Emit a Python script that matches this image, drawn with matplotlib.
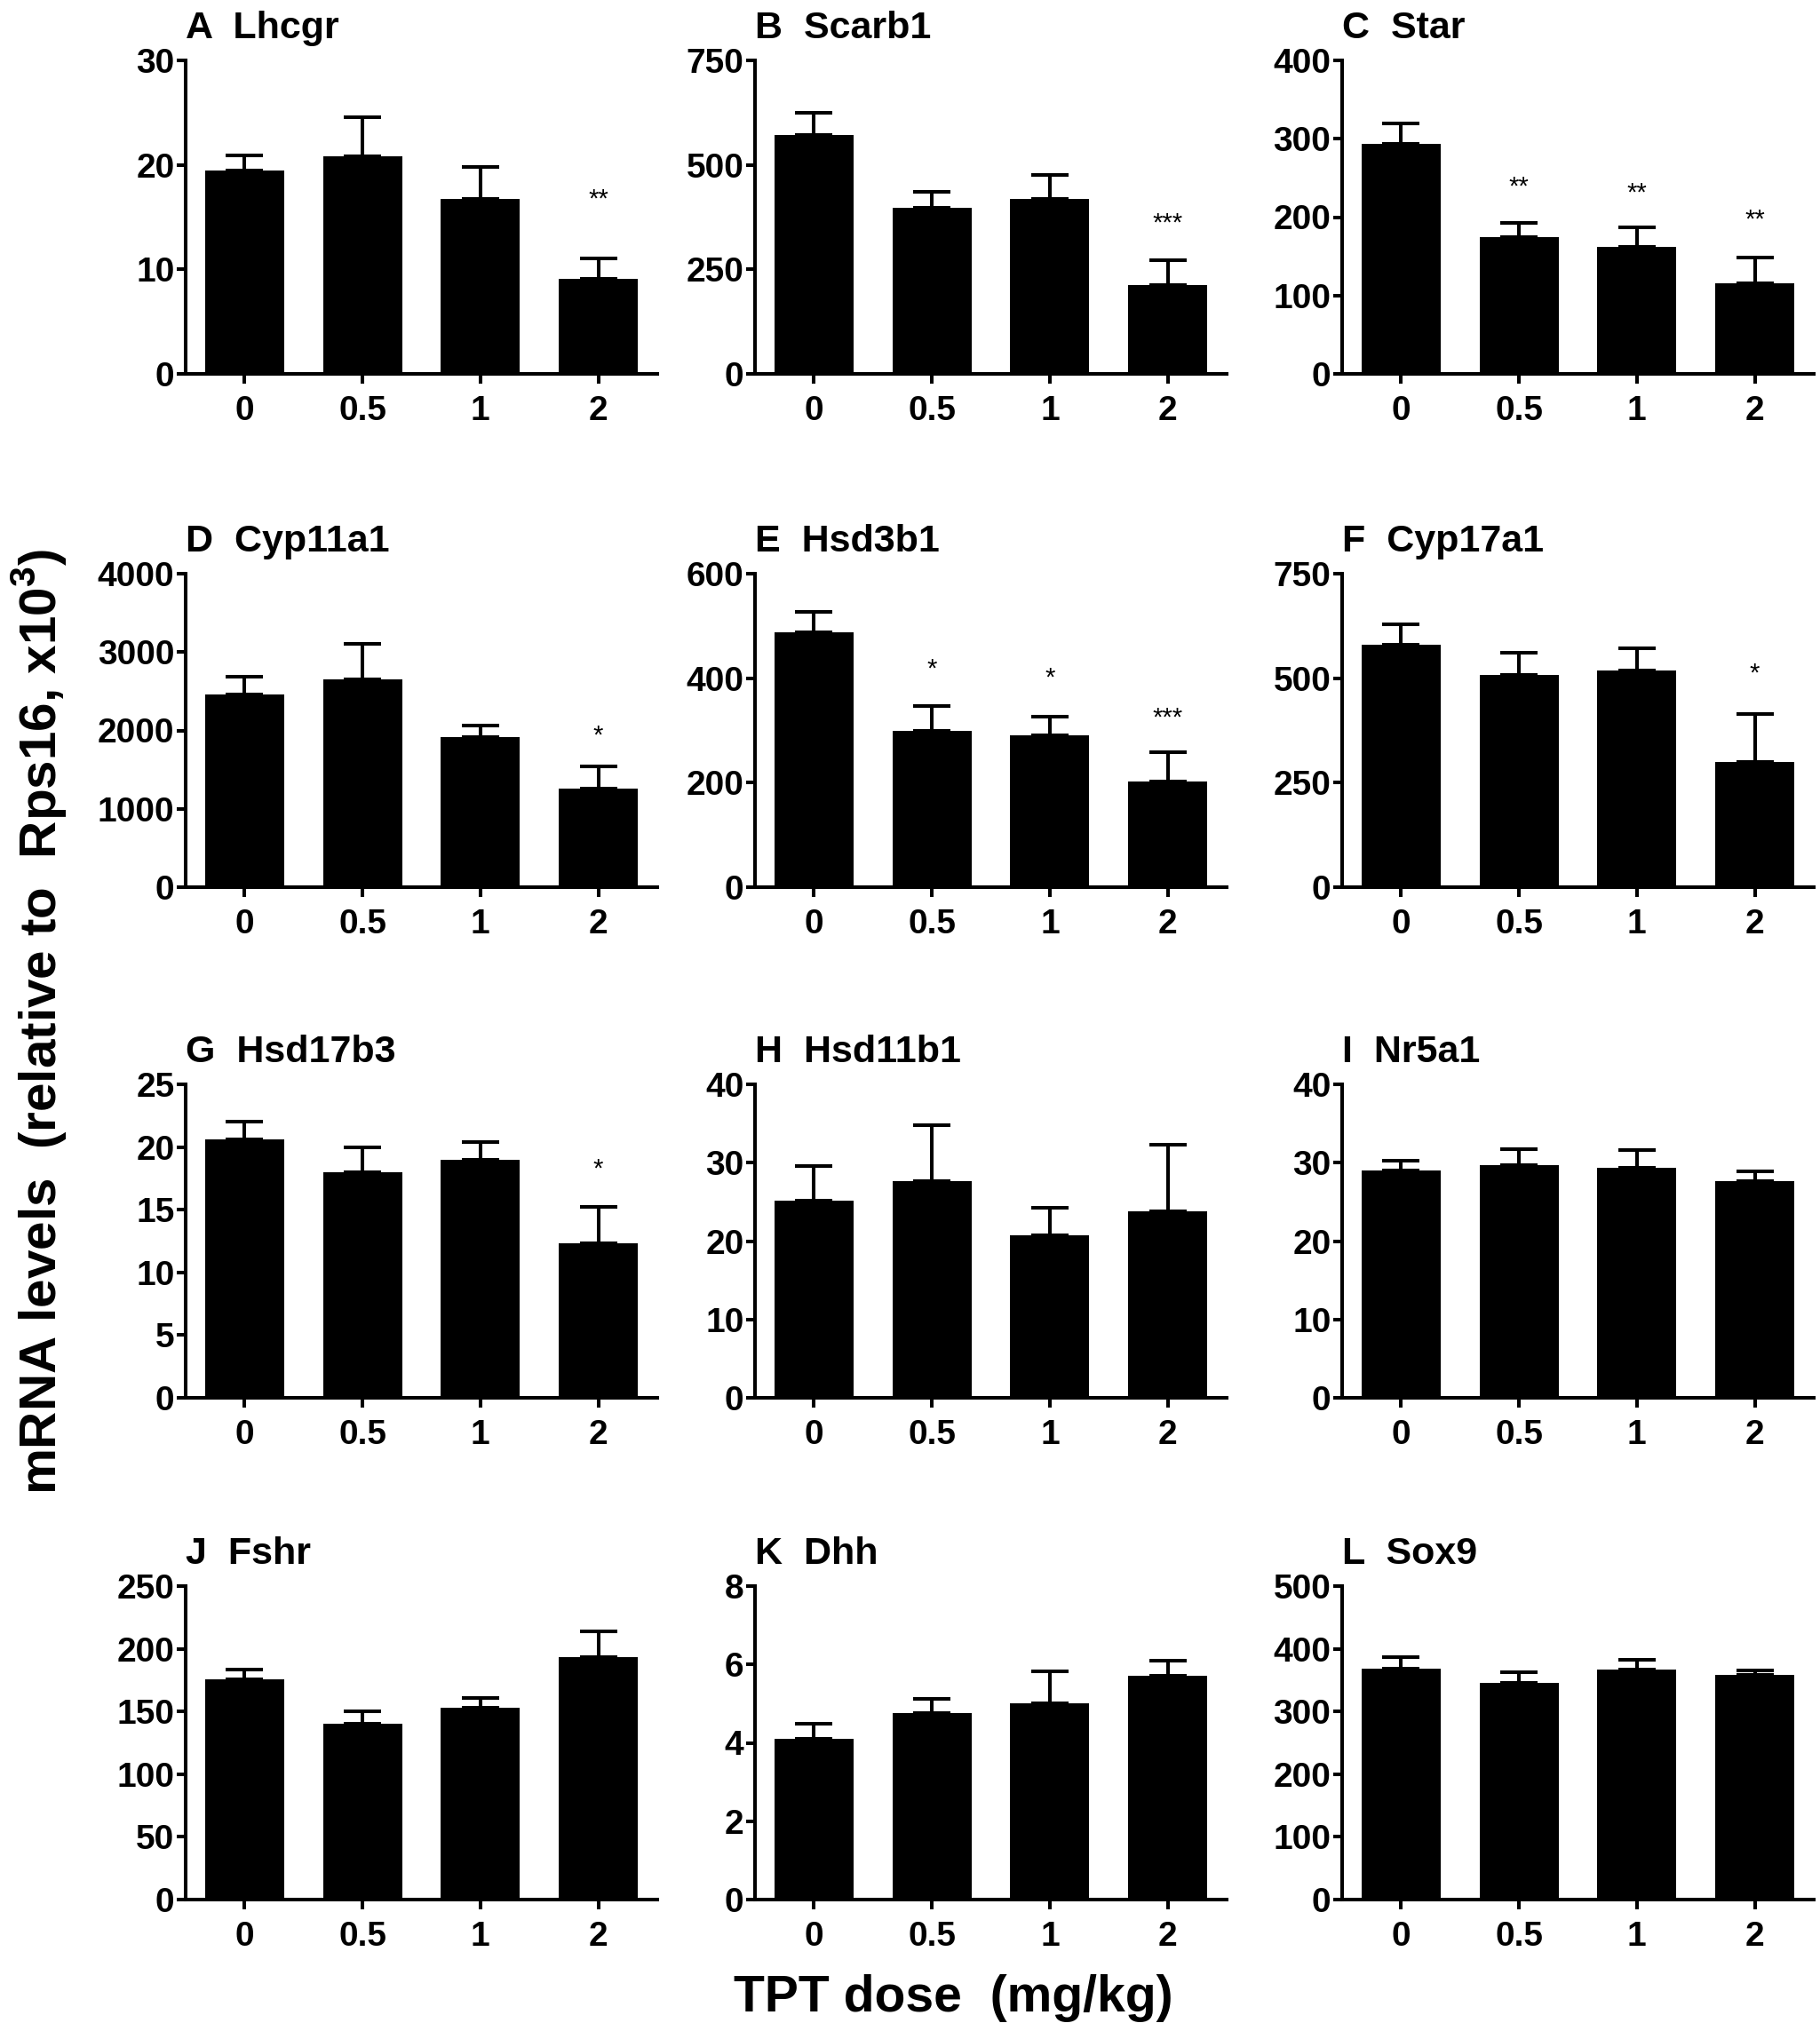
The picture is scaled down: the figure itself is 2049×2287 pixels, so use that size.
import matplotlib
matplotlib.use("Agg")
import matplotlib.pyplot as plt

plt.rcParams['font.family'] = ['Liberation Sans', 'DejaVu Sans']
plt.rcParams['mathtext.fontset'] = 'custom'
plt.rcParams['mathtext.bf'] = 'Liberation Sans:bold'
plt.rcParams['mathtext.rm'] = 'Liberation Sans:bold'

doses = ['0', '0.5', '1', '2']

# mean and SEM
lhcgr = [19.45, 20.8, 16.7, 9.1]
lhcgr_sem = [1.45, 3.8, 3.1, 1.96]
scarb1 = [572, 397, 419, 213]
scarb1_sem = [53, 39, 57, 59]
star = [293, 175, 162, 116]
star_sem = [27, 18, 25, 32]
cyp11a1 = [2460, 2653, 1917, 1257]
cyp11a1_sem = [230, 453, 143, 283]
hsd3b1 = [487, 300, 291, 203]
hsd3b1_sem = [40, 46, 36, 55]
cyp17a1 = [581, 508, 519, 299]
cyp17a1_sem = [47, 52, 53, 115]
hsd17b3 = [20.6, 18.0, 19.0, 12.3]
hsd17b3_sem = [1.4, 2.0, 1.4, 2.9]
hsd11b1 = [25.2, 27.7, 20.7, 23.8]
hsd11b1_sem = [4.4, 7.05, 3.5, 8.5]
nr5a1 = [29.0, 29.7, 29.4, 27.6]
nr5a1_sem = [1.2, 2.0, 2.2, 1.3]
fshr = [175.4, 140, 153, 193]
fshr_sem = [8.2, 10, 8, 21]
dhh = [4.11, 4.75, 5.01, 5.71]
dhh_sem = [0.38, 0.38, 0.82, 0.38]
sox9 = [368, 346, 367, 359]
sox9_sem = [18, 17, 15, 6]

# significance marks and the height they sit at
lhcgr_sig = ['', '', '', '**']
lhcgr_sig_y = [0, 0, 0, 16.7]
scarb1_sig = ['', '', '', '***']
scarb1_sig_y = [0, 0, 0, 359]
star_sig = ['', '**', '**', '**']
star_sig_y = [0, 238, 231, 196]
cyp11a1_sig = ['', '', '', '*']
cyp11a1_sig_y = [0, 0, 0, 1935]
hsd3b1_sig = ['', '*', '*', '***']
hsd3b1_sig_y = [0, 418, 401, 324]
cyp17a1_sig = ['', '', '', '*']
cyp17a1_sig_y = [0, 0, 0, 510]
hsd17b3_sig = ['', '', '', '*']
hsd17b3_sig_y = [0, 0, 0, 18.2]
none_sig = ['', '', '', '']
none_sig_y = [0, 0, 0, 0]

titles = ['A  Lhcgr', 'B  Scarb1', 'C  Star', 'D  Cyp11a1', 'E  Hsd3b1', 'F  Cyp17a1',
          'G  Hsd17b3', 'H  Hsd11b1', 'I  Nr5a1', 'J  Fshr', 'K  Dhh', 'L  Sox9']
yticks = [[0, 10, 20, 30], [0, 250, 500, 750], [0, 100, 200, 300, 400],
          [0, 1000, 2000, 3000, 4000], [0, 200, 400, 600], [0, 250, 500, 750],
          [0, 5, 10, 15, 20, 25], [0, 10, 20, 30, 40], [0, 10, 20, 30, 40],
          [0, 50, 100, 150, 200, 250], [0, 2, 4, 6, 8], [0, 100, 200, 300, 400, 500]]

panels = [
    (lhcgr, lhcgr_sem, lhcgr_sig, lhcgr_sig_y),
    (scarb1, scarb1_sem, scarb1_sig, scarb1_sig_y),
    (star, star_sem, star_sig, star_sig_y),
    (cyp11a1, cyp11a1_sem, cyp11a1_sig, cyp11a1_sig_y),
    (hsd3b1, hsd3b1_sem, hsd3b1_sig, hsd3b1_sig_y),
    (cyp17a1, cyp17a1_sem, cyp17a1_sig, cyp17a1_sig_y),
    (hsd17b3, hsd17b3_sem, hsd17b3_sig, hsd17b3_sig_y),
    (hsd11b1, hsd11b1_sem, none_sig, none_sig_y),
    (nr5a1, nr5a1_sem, none_sig, none_sig_y),
    (fshr, fshr_sem, none_sig, none_sig_y),
    (dhh, dhh_sem, none_sig, none_sig_y),
    (sox9, sox9_sem, none_sig, none_sig_y),
]

W, H = 2049, 2287
fig = plt.figure(figsize=(W / 100, H / 100), dpi=100)

col_left = [209, 850, 1511]
col_width = 531
row_top = [68, 646, 1221, 1786]
ax_h = 353
lw = 2.9

x = list(range(len(doses)))

for i, (vals, sem, sig, sig_y) in enumerate(panels):
    r, c = divmod(i, 3)
    ax = fig.add_axes([col_left[c] / W, 1 - (row_top[r] + ax_h) / H, col_width / W, ax_h / H])
    ax.errorbar(x, vals, yerr=[[0] * 4, sem], fmt='none', ecolor='black',
                elinewidth=lw, capsize=15, capthick=lw, zorder=2)
    ax.bar(x, vals, width=0.67, color='black', zorder=3)
    for xi, s, sy in zip(x, sig, sig_y):
        if s:
            ax.text(xi, sy, s, ha='center', va='center', fontsize=21, zorder=4)
    ax.set_xlim(-0.5, 3.5)
    ax.set_ylim(0, yticks[i][-1])
    ax.set_yticks(yticks[i])
    ax.set_xticks(x)
    ax.set_xticklabels(doses)
    for sp in ['top', 'right']:
        ax.spines[sp].set_visible(False)
    for sp in ['left', 'bottom']:
        ax.spines[sp].set_linewidth(lw)
    ax.tick_params(axis='y', length=7, width=lw, pad=2, labelsize=28)
    ax.tick_params(axis='x', length=8, width=lw, pad=9, labelsize=28)
    for lab in ax.get_xticklabels() + ax.get_yticklabels():
        lab.set_fontweight('bold')
    ax.text(0.0, 1.07, titles[i], transform=ax.transAxes, ha='left', va='baseline',
            fontsize=31, fontweight='bold')

fig.text(44 / W, 1 - 1150 / H, r'mRNA levels  (relative to  Rps16, x10$^{\mathbf{3}}$)',
         rotation=90, ha='center', va='center', fontsize=42, fontweight='bold')
fig.text(1073 / W, 1 - 2250 / H, 'TPT dose  (mg/kg)', ha='center', va='center',
         fontsize=41, fontweight='bold')

fig.savefig('out.png', dpi=100)
